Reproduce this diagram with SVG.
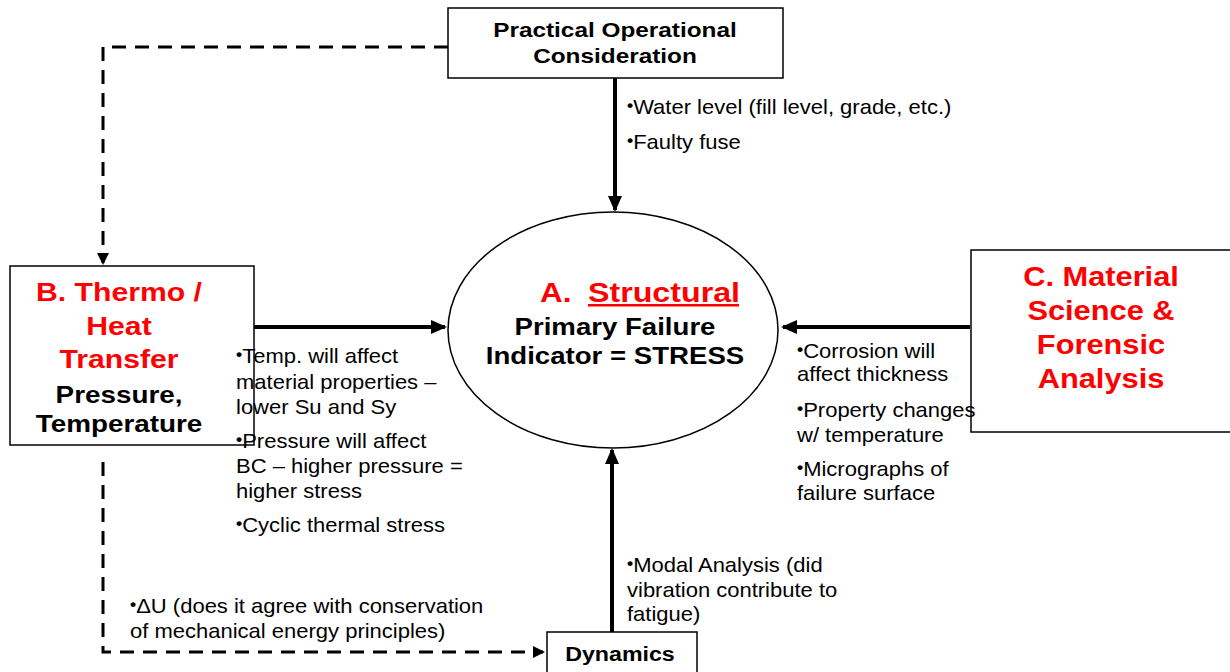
<svg xmlns="http://www.w3.org/2000/svg" width="1230" height="672" viewBox="0 0 1230 672">
  <style>
    .box { fill: #fff; stroke: #000; stroke-width: 1.5; }
    .title { font-family: "Liberation Sans", Arial, sans-serif; font-weight: bold; text-anchor: middle; }
    .red { fill: #ff0000; }
    .blk { fill: #000; }
    .note { font-family: "Liberation Sans", Arial, sans-serif; font-size: 20px; fill: #000; }
    .bul { font-size: 16px; baseline-shift: 3px; font-weight: bold; }
    .solid { stroke: #000; stroke-width: 4; fill: none; }
    .dash { stroke: #000; stroke-width: 3; fill: none; stroke-dasharray: 14 9; }
  </style>
  <defs>
    <marker id="ah" markerWidth="12" markerHeight="12" refX="10" refY="6" orient="auto" markerUnits="userSpaceOnUse" viewBox="0 0 12 12">
      <path d="M0,0 L12,6 L0,12 z" fill="#000"/>
    </marker>
    <marker id="ahs" markerWidth="16" markerHeight="14" refX="14" refY="7" orient="auto" markerUnits="userSpaceOnUse" viewBox="0 0 16 14">
      <path d="M0,0 L16,7 L0,14 z" fill="#000"/>
    </marker>
  </defs>

  <rect width="1230" height="672" fill="#fff"/>

  <!-- connectors -->
  <g id="connectors">
    <line class="solid" x1="615" y1="78" x2="615" y2="210" marker-end="url(#ahs)"/>
    <line class="solid" x1="200" y1="327" x2="445" y2="327" marker-end="url(#ahs)"/>
    <line class="solid" x1="970" y1="327" x2="783" y2="327" marker-end="url(#ahs)"/>
    <line class="solid" x1="612" y1="632" x2="612" y2="450" marker-end="url(#ahs)"/>
    <path class="dash" d="M448,47 L103,47 L103,263" marker-end="url(#ah)"/>
    <path class="dash" d="M103,462 L103,652 L543,652" marker-end="url(#ah)"/>
  </g>

  <!-- Practical operational consideration -->
  <g id="practical">
    <rect class="box" x="448" y="8" width="335" height="70"/>
    <g transform="translate(615 0) scale(1.16 1)">
      <text class="title blk" x="0" y="37" font-size="21">Practical Operational</text>
      <text class="title blk" x="0" y="63" font-size="21">Consideration</text>
    </g>
  </g>

  <!-- A. Structural -->
  <g id="structural">
    <ellipse cx="613" cy="330" rx="165" ry="118" fill="#fff" stroke="#000" stroke-width="1.5"/>
    <g transform="translate(540 0) scale(1.12 1)">
      <text class="title red" x="0" y="302" font-size="28" style="text-anchor:start">A.</text>
    </g>
    <g transform="translate(588 0) scale(1.15 1)">
      <text class="title red" x="0" y="302" font-size="28" style="text-anchor:start">Structural</text>
    </g>
    <rect x="588" y="304" width="151" height="2.5" fill="#ff0000"/>
    <g transform="translate(615 0) scale(1.15 1)">
      <text class="title blk" x="0" y="335" font-size="24">Primary Failure</text>
      <text class="title blk" x="0" y="364" font-size="24">Indicator = STRESS</text>
    </g>
  </g>

  <!-- B. Thermo / Heat Transfer -->
  <g id="thermo">
    <rect class="box" x="10" y="266" width="244" height="179"/>
    <g transform="translate(119 0) scale(1.16 1)">
      <text class="title red" x="0" y="301" font-size="26">B. Thermo /</text>
      <text class="title red" x="0" y="335" font-size="26">Heat</text>
      <text class="title red" x="0" y="368" font-size="26">Transfer</text>
      <text class="title blk" x="0" y="403" font-size="24">Pressure,</text>
      <text class="title blk" x="0" y="432" font-size="24">Temperature</text>
    </g>
  </g>

  <!-- C. Material Science & Forensic Analysis -->
  <g id="material">
    <rect class="box" x="971" y="250" width="262" height="182"/>
    <g transform="translate(1101 0) scale(1.1 1)">
      <text class="title red" x="0" y="286" font-size="28">C. Material</text>
      <text class="title red" x="0" y="320" font-size="28">Science &amp;</text>
      <text class="title red" x="0" y="354" font-size="28">Forensic</text>
      <text class="title red" x="0" y="388" font-size="28">Analysis</text>
    </g>
  </g>

  <!-- Dynamics -->
  <g id="dynamics">
    <rect class="box" x="547" y="632" width="150" height="45"/>
    <g transform="translate(620 0) scale(1.16 1)">
      <text class="title blk" x="0" y="661" font-size="20">Dynamics</text>
    </g>
  </g>

  <!-- connector notes -->
  <g id="notes">
    <g transform="translate(627 0) scale(1.1 1)">
      <text class="note" x="0" y="114"><tspan class="bul">•</tspan>Water level (fill level, grade, etc.)</text>
      <text class="note" x="0" y="149"><tspan class="bul">•</tspan>Faulty fuse</text>
    </g>

    <g transform="translate(236 0) scale(1.1 1)">
      <text class="note" x="0" y="363"><tspan class="bul">•</tspan>Temp. will affect</text>
      <text class="note" x="0" y="389">material properties –</text>
      <text class="note" x="0" y="414">lower Su and Sy</text>
      <text class="note" x="0" y="448"><tspan class="bul">•</tspan>Pressure will affect</text>
      <text class="note" x="0" y="473">BC – higher pressure =</text>
      <text class="note" x="0" y="498">higher stress</text>
      <text class="note" x="0" y="532"><tspan class="bul">•</tspan>Cyclic thermal stress</text>
    </g>

    <g transform="translate(797 0) scale(1.1 1)">
      <text class="note" x="0" y="358"><tspan class="bul">•</tspan>Corrosion will</text>
      <text class="note" x="0" y="381">affect thickness</text>
      <text class="note" x="0" y="417"><tspan class="bul">•</tspan>Property changes</text>
      <text class="note" x="0" y="442">w/ temperature</text>
      <text class="note" x="0" y="476"><tspan class="bul">•</tspan>Micrographs of</text>
      <text class="note" x="0" y="500">failure surface</text>
    </g>

    <g transform="translate(627 0) scale(1.1 1)">
      <text class="note" x="0" y="572"><tspan class="bul">•</tspan>Modal Analysis (did</text>
      <text class="note" x="0" y="597">vibration contribute to</text>
      <text class="note" x="0" y="621">fatigue)</text>
    </g>

    <g transform="translate(130 0) scale(1.1 1)">
      <text class="note" x="0" y="613"><tspan class="bul">•</tspan>ΔU (does it agree with conservation</text>
      <text class="note" x="0" y="638">of mechanical energy principles)</text>
    </g>
  </g>
</svg>
